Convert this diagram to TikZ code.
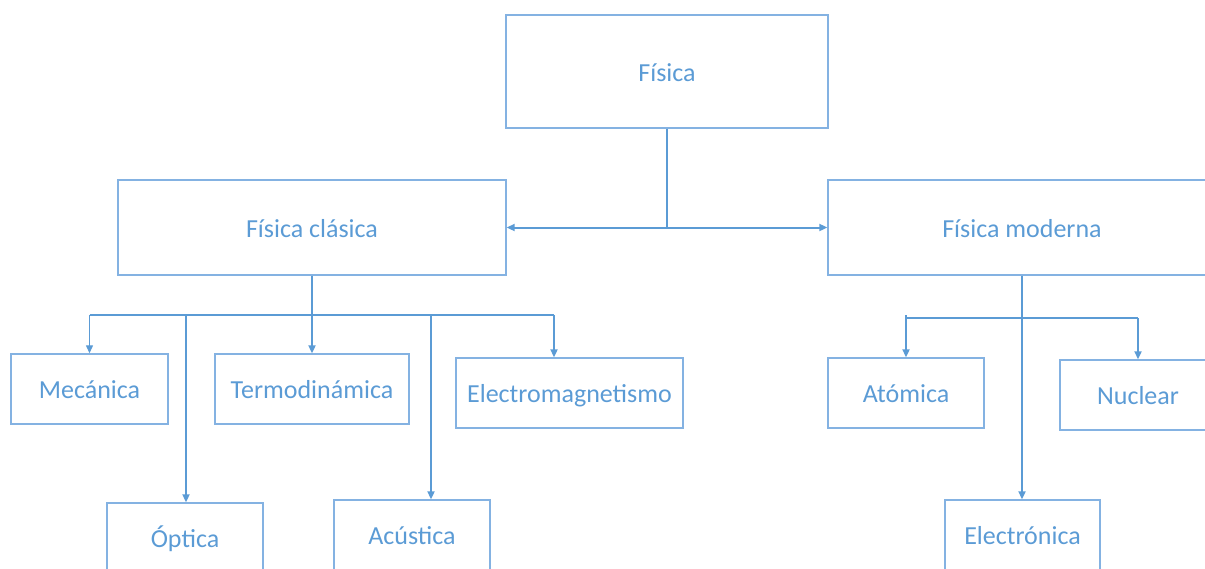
\documentclass[tikz,border=0pt]{standalone}
\usepackage{fontspec}
\setmainfont{Carlito}
\usetikzlibrary{arrows.meta}
\definecolor{linec}{HTML}{5B9BD5}
\definecolor{boxc}{HTML}{84B2E2}
\definecolor{textc}{HTML}{5B9BD5}
\begin{document}
\begin{tikzpicture}[x=1pt,y=-1pt,
  box/.style={draw=boxc, line width=1.4pt, text=textc, inner sep=0pt,
    font=\fontsize{26}{30}\selectfont, text height=19.5pt, text depth=0pt},
  conn/.style={draw=linec, line width=2pt},
  thinconn/.style={draw=linec, line width=1.2pt},
  tip/.style={-{Triangle[length=8pt,width=7pt]}},
  tips/.style={{Triangle[length=8pt,width=7pt]}-{Triangle[length=8pt,width=7pt]}}]
  \useasboundingbox (0,0) rectangle (1205,568);
  \clip (0,0) rectangle (1205,568);

  % boxes
  \node[box, minimum width=322pt, minimum height=113pt] (fis) at (667,71.5) {Física};
  \node[box, minimum width=388pt, minimum height=95pt] (cla) at (312,227.5) {Física clásica};
  \node[box, minimum width=388pt, minimum height=95pt] (mod) at (1022,227.5) {Física moderna};
  \node[box, minimum width=157pt, minimum height=70pt] (mec) at (89.5,389) {Mecánica};
  \node[box, minimum width=194pt, minimum height=70pt] (ter) at (312,389) {Termodinámica};
  \node[box, minimum width=227pt, minimum height=70pt] (ele) at (569.5,393) {Electromagnetismo};
  \node[box, minimum width=156pt, minimum height=70pt] (opt) at (185,538) {Óptica};
  \node[box, minimum width=156pt, minimum height=70pt] (acu) at (412,535) {Acústica};
  \node[box, minimum width=156pt, minimum height=70pt] (ato) at (906,393) {Atómica};
  \node[box, minimum width=156pt, minimum height=70pt] (nuc) at (1138,395) {Nuclear};
  \node[box, minimum width=155pt, minimum height=70pt] (eln) at (1022.5,535) {Electrónica};

  % top level
  \draw[conn, tips] (cla.east) -- (mod.west);
  \draw[conn] (fis.south) -- (fis.south |- cla.east);

  % classical branches
  \coordinate (busL) at (89.5,315);
  \coordinate (busR) at (554,315);
  \coordinate (jo) at (186,315);
  \coordinate (ja) at (431,315);
  \draw[conn] (cla.south) -- (cla.south |- busL);
  \draw[conn] (busL) -- (busR);
  \draw[thinconn, tip] (busL) -- (mec.north);
  \draw[conn, tip] (cla.south |- busL) -- (ter.north);
  \draw[conn, tip] (busR) -- (busR |- ele.north);
  \draw[conn, tip] (jo) -- (jo |- opt.north);
  \draw[conn, tip] (ja) -- (ja |- acu.north);

  % modern branches
  \coordinate (mL) at (906,318);
  \coordinate (mR) at (1138,318);
  \draw[conn, tip] (mod.south) -- (mod.south |- eln.north);
  \draw[conn] (mL) -- (mR);
  \draw[conn, tip] ([yshift=3pt]mL) -- (ato.north);
  \draw[conn, tip] (mR) -- (nuc.north);
\end{tikzpicture}
\end{document}
